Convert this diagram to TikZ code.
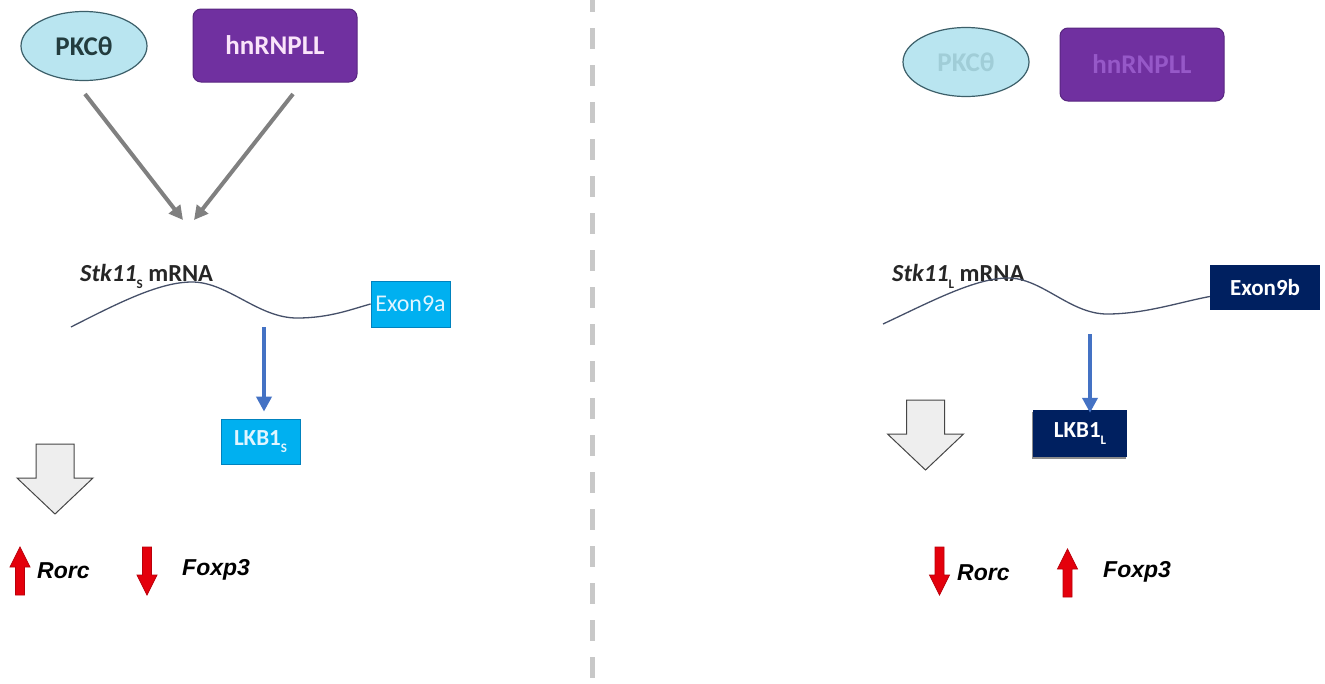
\documentclass[tikz,border=0pt]{standalone}
\usepackage{fontspec}
\setmainfont{Carlito}
\newfontfamily\arialfont{Liberation Sans}
\usetikzlibrary{arrows.meta,shapes.geometric,calc}

\definecolor{pkcfill}{RGB}{185,229,240}
\definecolor{pkcedge}{RGB}{60,95,105}
\definecolor{pkctext}{RGB}{35,60,62}
\definecolor{pkcfade}{RGB}{160,205,215}
\definecolor{hnfill}{RGB}{112,48,160}
\definecolor{hnedge}{RGB}{88,38,128}
\definecolor{hntext}{RGB}{250,228,250}
\definecolor{hnfade}{RGB}{150,88,200}
\definecolor{cyanbox}{RGB}{0,176,240}
\definecolor{cyanedge}{RGB}{0,130,190}
\definecolor{cyantext}{RGB}{225,245,255}
\definecolor{navybox}{RGB}{0,32,96}
\definecolor{bluearrow}{RGB}{68,114,196}
\definecolor{mrna}{RGB}{70,80,105}
\definecolor{arrowgray}{RGB}{128,128,128}
\definecolor{fatfill}{RGB}{238,238,238}
\definecolor{fatedge}{RGB}{70,70,70}
\definecolor{redfill}{RGB}{228,0,12}
\definecolor{rededge}{RGB}{185,0,10}
\definecolor{divgray}{RGB}{200,200,200}

\newcommand{\fsz}[1]{\fontsize{#1}{#1}\selectfont}
\newcommand{\lowsub}[1]{\raisebox{-0.3em}{\fsz{13}#1}}

\tikzset{
  pkc/.style={ellipse, draw=pkcedge, line width=1.2pt, fill=pkcfill,
    minimum width=126pt, minimum height=69pt, inner sep=0pt,
    font=\bfseries\fsz{27}},
  hnbox/.style={rectangle, rounded corners=8pt, draw=hnedge, line width=1pt,
    fill=hnfill, minimum width=164pt, minimum height=73pt, inner sep=0pt,
    font=\bfseries\fsz{27}},
  exonbox/.style={rectangle, inner sep=0pt, minimum height=46pt},
  lkbbox/.style={rectangle, inner sep=0pt, font=\bfseries\fsz{23}},
  mlabel/.style={inner sep=0pt, anchor=base west, text={black!85}, font=\fsz{24.5}},
  gene/.style={inner sep=0pt, anchor=base west, font=\arialfont\bfseries\itshape\fsz{23}},
  grayarrow/.style={draw=arrowgray, line width=4pt,
    -{Triangle[length=14pt,width=14pt]}},
  bluearr/.style={draw=bluearrow, line width=4pt,
    -{Triangle[length=15pt,width=15pt]}},
  strand/.style={draw=mrna, line width=1.3pt},
  divider/.style={draw=divgray, line width=5pt, dash pattern=on 21pt off 16pt, dash phase=9pt},
  fatdown/.pic={
    \draw[fill=fatfill, draw=fatedge, line width=1pt, line join=miter]
      (-19,0) -- (19,0) -- (19,34) -- (38,34) -- (0,70) -- (-38,34) -- (-19,34) -- cycle;
  },
  redup/.pic={
    \draw[fill=redfill, draw=rededge, line width=0.8pt]
      (0,0) -- (10,20) -- (4.5,20) -- (4.5,48) -- (-4.5,48) -- (-4.5,20) -- (-10,20) -- cycle;
  },
  reddown/.pic={
    \draw[fill=redfill, draw=rededge, line width=0.8pt]
      (0,48) -- (10,28) -- (4.5,28) -- (4.5,0) -- (-4.5,0) -- (-4.5,28) -- (-10,28) -- cycle;
  }
}

\begin{document}
\begin{tikzpicture}[x=1pt, y=-1pt]
\useasboundingbox (0,0) rectangle (1325,683);
\fill[white] (0,0) rectangle (1325,683);

% divider between the two conditions
\draw[divider] (592,0) -- (592,683);

% ---------- left: short isoform ----------
\node[pkc] (pkcS) at (84,46) {\textcolor{pkctext}{PKCθ}};
\node[hnbox] (hnS) at (275,45.5) {\textcolor{hntext}{hnRNPLL}};

\coordinate (gA) at (85,94);
\coordinate (gB) at (293,94);
\coordinate (gAt) at (183,220);
\coordinate (gBt) at (194,220);
\draw[grayarrow] (gA) -- (gAt);
\draw[grayarrow] (gB) -- (gBt);

\node[mlabel] (stkS) at (80,281)
  {{\bfseries\itshape Stk11}\lowsub{\bfseries S}\bfseries\ mRNA};

\node[exonbox, fill=cyanbox, draw=cyanedge, line width=0.8pt,
  minimum width=79pt, font=\fsz{24}] (exonA) at (410.5,304)
  {\textcolor{cyantext}{Exon9a}};
\coordinate (mS) at (71,327);
\draw[strand] (mS) .. controls (120,302) and (160,282) .. (192,282)
  .. controls (228,282) and (258,318) .. (297,318)
  .. controls (330,318) and (352,309) .. (exonA.west);

\node[lkbbox, fill=cyanbox, draw=cyanedge, line width=0.8pt,
  minimum width=79pt, minimum height=45pt] (lkbS) at (260.5,441.5)
  {\textcolor{cyantext}{LKB1\lowsub{S}}};
\coordinate (bS) at (264,327);
\draw[bluearr] (bS) -- ($(bS |- lkbS.north)+(0,-7)$);

\pic at (55,444) {fatdown};

\pic at (20,547) {redup};
\node[gene] (rorcS) at (37,578) {Rorc};
\pic at (147,547) {reddown};
\node[gene] (foxS) at (182,575) {Foxp3};

% ---------- right: long isoform ----------
\node[pkc] (pkcL) at (966,62) {\textcolor{pkcfade}{PKCθ}};
\node[hnbox] (hnL) at (1142,64.5) {\textcolor{hnfade}{hnRNPLL}};

\node[mlabel] (stkL) at (892,281)
  {{\bfseries\itshape Stk11}\lowsub{\bfseries L}\bfseries\ mRNA};

\node[exonbox, fill=navybox, minimum width=110pt, minimum height=45pt,
  font=\bfseries\fsz{23}] (exonB) at (1265,287.5)
  {\textcolor{white}{Exon9b}};
\coordinate (mL) at (883,324);
\draw[strand] (mL) .. controls (930,302) and (975,278) .. (1008,278)
  .. controls (1042,278) and (1070,314) .. (1107,314)
  .. controls (1145,314) and (1180,302) .. ($(exonB.west)+(0,9)$);

% soft shadow under the long-isoform protein box
\fill[black!45] (1032,412) rectangle (1126,459);
\node[lkbbox, fill=navybox, minimum width=94pt, minimum height=47pt]
  (lkbL) at (1080,433.5) {\textcolor{white}{LKB1\lowsub{L}}};
\coordinate (bL) at (1090,334);
\draw[bluearr] (bL) -- ($(bL |- lkbL.north)+(0,3)$);

\pic at (925.5,400) {fatdown};

\pic at (939.5,547) {reddown};
\node[gene] (rorcL) at (957,580) {Rorc};
\pic at (1067.5,549) {redup};
\node[gene] (foxL) at (1103,577) {Foxp3};
\end{tikzpicture}
\end{document}
